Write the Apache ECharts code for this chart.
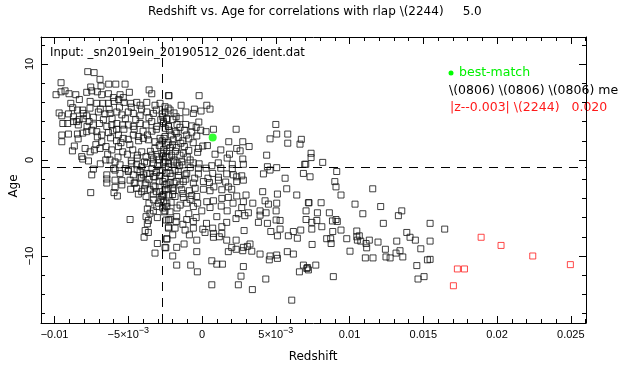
<!DOCTYPE html>
<html>
<head>
<meta charset="utf-8">
<script src="https://cdn.jsdelivr.net/npm/echarts@6/dist/echarts.min.js"></script>
<style>
html,body{margin:0;padding:0;background:#fff;}
#chart{width:620px;height:370px;}
</style>
</head>
<body>
<div id="chart"></div>
<script>
// ---------------- data ----------------
const titleText = 'Redshift vs. Age for correlations with rlap \\(2244)     5.0';
const inputText = 'Input: _sn2019ein_20190512_026_ident.dat';
const legendLines = ['best-match', '\\(0806) \\(0806) \\(0806) me', '|z--0.003| \\(2244)   0.020'];
const xAxisTitle = 'Redshift';
const yAxisTitle = 'Age';

const xRange = [-0.01092, 0.02603];
const yRange = [-16.98, 12.81];
const xMajorTicks = [-0.01, -0.005, 0, 0.005, 0.01, 0.015, 0.02, 0.025];
const xTickText = ['\u22120.01', '\u22125\u00d710', '0', '5\u00d710', '0.01', '0.015', '0.02', '0.025'];
const xTickExp = ['', '\u22123', '', '\u22123', '', '', '', ''];
const yMajorTicks = [-10, 0, 10];
const yTickText = ['\u221210', '0', '10'];

const refLineZ = -0.00273;   // vertical dashed line
const refLineAge = -0.73;    // horizontal dashed line

const bestMatch = [[0.00072, 2.35]];

const redPoints = [
  [0.01731,-11.35],[0.01779,-11.35],[0.01704,-13.1],[0.01892,-8.05],[0.02027,-8.9],[0.02242,-10.0],[0.02497,-10.9]
];

const blackPoints = [
  [-0.00775,9.2],[-0.00732,9.1],[-0.00692,8.4],[-0.00956,8.05],[-0.00685,7.7],[-0.00633,7.9],[-0.00585,7.9],[-0.00522,7.9],[-0.00755,7.6],[-0.0099,6.8],[-0.00956,7.1],[-0.00929,7.2],[-0.00902,6.9],[-0.00856,6.8],[-0.00832,6.3],[-0.00782,7.05],[-0.00748,7.2],[-0.0071,7.1],[-0.0068,6.8],[-0.00635,6.9],[-0.00601,6.5],[-0.00556,6.8],[-0.00534,6.5],[-0.00493,7.05],[-0.00359,7.3],[-0.00341,6.9],[-0.00228,6.7],
  [-0.0089,5.9],[-0.00877,5.45],[-0.00845,5.2],[-0.00809,5.2],[-0.00759,6.1],[-0.00714,5.9],[-0.00673,5.9],[-0.00635,5.9],[-0.00597,6.1],[-0.00565,6.3],[-0.00529,6.0],[-0.00484,5.9],[-0.00443,6.0],[-0.0042,5.7],[-0.00375,6.0],[-0.00319,5.7],[-0.00285,5.9],[-0.00251,5.55],
  [-0.00969,4.9],[-0.00951,4.6],[-0.00906,4.8],[-0.00872,4.5],[-0.00834,4.2],[-0.00805,4.85],[-0.00782,4.6],[-0.00737,4.45],[-0.00703,5.0],[-0.00658,4.8],[-0.00624,4.85],[-0.00578,5.0],[-0.00544,4.7],[-0.005,5.0],[-0.00466,4.85],[-0.0042,4.6],[-0.00375,5.0],[-0.0033,4.85],[-0.0028,4.2],[-0.00239,4.3],
  [-0.00944,3.8],[-0.00911,3.8],[-0.00872,4.0],[-0.00839,3.65],[-0.00805,4.3],[-0.00766,4.0],[-0.00737,3.65],[-0.00696,3.8],[-0.00669,4.2],[-0.00646,3.5],[-0.00612,3.65],[-0.00578,3.8],[-0.00538,3.65],[-0.005,3.65],[-0.00466,3.5],[-0.0042,3.8],[-0.0038,3.65],[-0.00341,4.0],[-0.00307,3.5],[-0.00262,3.8],[-0.00228,3.5],
  [-0.00951,2.6],[-0.00906,2.7],[-0.00845,2.7],[-0.00809,2.8],[-0.00782,2.95],[-0.00748,3.1],[-0.00714,2.95],[-0.0068,2.6],[-0.00635,2.85],[-0.00605,3.05],[-0.00567,2.6],[-0.00534,2.25],[-0.005,2.15],[-0.00466,2.6],[-0.00432,2.45],[-0.00398,2.25],[-0.00364,2.1],[-0.00319,1.9],[-0.00285,2.25],[-0.00251,2.45],
  [-0.00951,1.9],[-0.00866,1.45],[-0.00879,0.95],[-0.00793,1.2],[-0.00759,0.85],[-0.0073,1.05],[-0.00692,1.2],[-0.00651,1.4],[-0.00612,1.05],[-0.00567,1.4],[-0.00538,0.85],[-0.00506,0.6],[-0.0047,1.05],[-0.00439,0.5],[-0.00409,0.85],[-0.0038,0.35],[-0.00341,0.5],[-0.00307,0.35],[-0.00273,0.7],[-0.00239,0.35],
  [-0.00816,0.35],[-0.00809,0.1],[-0.00653,0.0],[-0.00624,0.0],[-0.0059,-0.2],[-0.00556,-0.5],[-0.00477,-0.35],[-0.00443,-0.5],[-0.00409,-0.7],[-0.00375,-0.35],[-0.0033,-0.35],[-0.00296,0.0],[-0.00262,-0.3],[-0.00228,-0.35],
  [-0.00737,-0.95],[-0.00748,-1.55],[-0.00646,-1.55],[-0.0059,-1.05],[-0.00556,-1.4],[-0.005,-1.05],[-0.00466,-1.55],[-0.0042,-1.2],[-0.00375,-1.4],[-0.0033,-1.75],[-0.00285,-1.05],[-0.00239,-1.4],
  [-0.00646,-1.98],[-0.00646,-2.4],[-0.0059,-2.1],[-0.00544,-2.15],[-0.00544,-2.6],[-0.0059,-2.85],[-0.00755,-3.4],[-0.00597,-3.4],[-0.00574,-3.75],[-0.00484,-3.05],[-0.00432,-3.55],[-0.00488,-2.1],[-0.00454,-2.4],[-0.0042,-1.9],[-0.00386,-2.6],[-0.00353,-3.1],[-0.00319,-2.8],[-0.00285,-3.3],[-0.00251,-2.6],[-0.0038,-3.8],[-0.0033,-4.15],[-0.00296,-4.5],[-0.00262,-4.35],[-0.00239,-4.85],[-0.00371,-5.1],[-0.00353,-5.55],[-0.00488,-6.2],[-0.0038,-5.9],[-0.00364,-6.3],[-0.00303,-6.0],[-0.00258,-5.4],[-0.00228,-6.25],[-0.00371,-6.65],[-0.00386,-7.35],[-0.00364,-7.55],[-0.00393,-8.05],[-0.00228,-7.1],[-0.00239,-8.2],[-0.00303,-8.7],[-0.00246,-9.15],[-0.00319,-9.7],[-0.005,-1.2],[-0.00398,-1.55],[-0.00353,-1.4],[-0.00319,-1.75],[-0.00285,-1.65],[-0.00251,-1.9],[-0.00443,-2.95],[-0.00409,-3.3],[-0.0033,-3.55],[-0.00273,-3.75],[-0.00307,-4.85],[-0.00266,-5.0],
  [-0.00224,6.7],[-0.0002,6.7],[-0.00142,5.7],[0.00032,5.7],[-0.00052,5.3],[-0.00007,5.1],[0.00054,5.3],[-0.00059,4.85],[-0.00217,5.2],[-0.00251,5.0],[-0.00176,4.5],[-0.00199,4.2],[-0.00239,4.25],[-0.00262,4.0],[-0.00111,3.7],[-0.0007,3.55],[-0.00022,3.95],[0.005,3.7],[-0.00222,3.1],[-0.00172,2.8],[-0.00104,2.6],[-0.00036,2.5],[-0.00009,3.1],[0.00027,2.95],[0.00077,3.2],[0.00231,3.2],[0.00506,2.7],[0.00581,2.7],[0.00461,2.2],[0.00673,2.15],[-0.00258,2.25],[-0.00195,2.1],[0.00181,1.9],[0.00276,1.9],[0.00581,1.75],[0.00664,1.65],[-0.00239,1.55],[-0.00144,1.75],[-0.00172,1.3],[0.00005,1.45],[-0.00025,1.2],[0.00036,1.5],[0.00127,1.05],[0.00235,1.2],[0.00319,1.4],[0.00258,0.95],[0.00088,0.6],[0.00186,0.6],[0.00438,0.5],[0.00276,0.1],[-0.00262,0.7],[-0.00206,0.5],[-0.00127,0.7],[-0.00251,-0.2],[-0.00195,-0.2],[-0.00138,-0.2],[-0.00081,0.0],[-0.00154,-0.6],[-0.00025,-0.85],[0.00027,-0.85],[0.00066,-0.6],[0.00127,-0.85],[0.00205,-0.45],[0.00205,-0.9],[0.0028,-0.45],[0.00443,-0.7],[0.00506,-0.8],[0.00461,-1.05],[0.00703,-0.45],[-0.00217,-1.4],[-0.00115,-1.55],[0.00072,-1.4],[0.00167,-1.45],[0.00235,-1.75],[0.00416,-1.45],[0.00563,-1.9],[0.00687,-1.4],[-0.00266,4.5],[-0.00228,3.5],[-0.00183,2.95],[-0.00161,2.35],[-0.00217,1.3],[-0.00266,0.35],[-0.0019,0.0],[-0.00228,-0.7],[-0.00183,-1.05],
  [-0.00161,-1.2],[-0.00104,-1.4],[-0.00025,-1.45],[0.00111,-1.8],[0.00212,-1.55],[0.00269,-1.65],
  [-0.00266,-2.25],[-0.00217,-2.35],[-0.00176,-2.25],[-0.00127,-2.25],[-0.00059,-2.4],[0.00009,-2.25],[0.0005,-2.35],[0.00111,-2.1],[0.00235,-2.25],[0.0028,-2.1],[0.00178,-2.8],[0.00574,-3.0],
  [-0.00251,-3.1],[-0.00195,-3.2],[-0.00138,-3.1],[-0.00086,-3.2],[-0.00047,-2.95],[0.00009,-3.05],[0.00054,-3.2],[0.00134,-3.1],[0.00201,-3.05],[0.00411,-3.3],[0.00511,-3.55],[0.00642,-3.65],
  [-0.00266,-3.8],[-0.00228,-3.65],[-0.00183,-3.8],[-0.00127,-3.9],[-0.00081,-4.1],[-0.00036,-3.8],[0.00032,-4.35],[0.00077,-4.25],[0.00134,-4.0],[0.00178,-3.9],[0.00235,-3.75],[0.00298,-3.65],[0.0028,-4.35],[0.00344,-4.5],[0.00427,-4.25],[0.0045,-4.6],[0.00506,-4.5],[0.00721,-4.45],
  [-0.00239,-4.5],[-0.00149,-4.7],[-0.00104,-4.5],[-0.00059,-4.85],[-0.00002,-5.3],[0.00054,-4.95],[0.00269,-4.95],[0.00314,-5.5],[0.00246,-5.6],[0.00393,-5.3],[0.00393,-5.75],[0.00434,-5.5],[0.00502,-5.3],[0.00705,-5.3],[0.00705,-6.2],
  [-0.00217,-6.2],[-0.00172,-5.9],[-0.00104,-6.2],[-0.00059,-6.4],[-0.00176,-6.4],[-0.00228,-7.0],[-0.00183,-7.1],[-0.00115,-7.3],[-0.00059,-7.1],[0.00005,-7.2],[0.0002,-7.55],[0.00072,-7.1],[0.00077,-7.65],[0.00134,-6.95],[0.00134,-7.65],[0.00167,-6.5],[0.00285,-7.35],[0.00382,-6.5],[0.00443,-6.6],[0.00502,-6.25],[0.00529,-6.3],[0.00466,-7.45],[0.00529,-7.2],[0.00511,-7.9],[0.00585,-7.9],[0.00619,-7.45],[0.00646,-8.15],[0.00669,-7.3],
  [-0.00239,-8.25],[-0.00199,-7.8],[-0.00086,-7.8],[-0.00036,-8.35],[0.00077,-8.05],[0.00117,-8.0],[0.00167,-8.35],[0.00231,-8.35],
  [-0.00251,-9.1],[-0.00172,-9.1],[-0.00122,-8.75],[-0.00036,-9.55],[0.00178,-9.55],[0.00201,-9.1],[0.00231,-9.3],[0.0028,-9.1],[0.00307,-9.0],[0.00337,-9.5],[0.00276,-9.45],[0.00325,-8.75],[0.00393,-9.8],[0.00461,-10.0],[0.00456,-10.4],[0.00506,-9.9],[0.00511,-10.25],[0.00578,-9.55],[0.00619,-9.8],
  [-0.00199,-10.0],[-0.00172,-10.95],[-0.00077,-10.95],[0.00066,-10.5],[0.001,-10.85],[0.00138,-10.85],[0.0028,-11.1],[0.00687,-10.95],[0.00714,-11.2],[-0.00032,-11.65],[0.0066,-11.65],[0.00264,-12.1],[0.00432,-12.4],[0.00066,-13.0],[0.00246,-13.0],[0.00341,-13.5],[0.00608,-14.6],
  [-0.00251,-5.3],[-0.00217,-5.4],[-0.00244,-6.25],
  [0.00739,0.7],[0.00739,0.25],[0.00696,-0.45],[0.00818,-0.25],[0.00732,-1.75],[0.00913,-1.2],[0.009,-2.25],[0.00908,-2.8],[0.00942,-3.65],[0.01157,-3.0],[0.00725,-4.45],[0.00807,-4.45],[0.00782,-5.5],[0.00863,-5.5],[0.01037,-4.6],[0.01211,-4.85],[0.01354,-5.3],[0.01331,-5.8],[0.0109,-5.6],[0.00778,-6.3],[0.00744,-6.5],[0.00884,-6.35],[0.00908,-6.2],[0.00917,-6.4],[0.00812,-6.95],[0.00744,-7.2],[0.00886,-7.45],[0.00942,-7.3],[0.01229,-6.6],[0.01546,-6.6],[0.01645,-7.2],[0.00746,-8.8],[0.00845,-8.2],[0.00875,-8.7],[0.00872,-8.2],
  [0.00981,-8.2],[0.01003,-9.5],[0.01049,-7.4],[0.01049,-8.0],[0.01066,-7.9],[0.01053,-8.35],[0.01076,-8.45],[0.01112,-8.7],[0.01116,-9.15],[0.01134,-8.35],[0.01193,-8.55],[0.01243,-9.3],[0.01247,-10.1],[0.01275,-10.2],[0.01159,-10.2],[0.01107,-10.2],[0.01315,-9.7],[0.01342,-9.45],[0.01361,-10.1],[0.0132,-8.45],[0.01388,-7.55],[0.0141,-8.05],[0.01446,-8.35],[0.01483,-9.25],[0.01546,-8.45],[0.01528,-10.4],[0.01456,-11.0],[0.01505,-12.15],[0.01464,-12.4],[0.0071,-11.3],[0.00721,-11.45],[0.00771,-10.95],[0.0089,-12.15],[0.01546,-10.35],
  [-0.0029,1.5],[-0.0026,1.1],[-0.0023,1.8],[-0.0032,1.2],[-0.0035,0.9],[-0.002,1.6],[-0.0018,0.9],[-0.0022,0.3],[-0.003,-0.6],[-0.0027,-1.1],[-0.0034,-0.9],[-0.0021,-1.7],[-0.0016,-1.6],[-0.0024,-2.5],[-0.0029,-2.2],[-0.0036,-2.0],[-0.002,-2.9],[-0.0026,-3.6],[-0.0015,-2.6],[-0.0033,-2.7],[-0.0041,-1.8],[-0.0046,-2.4],[-0.0039,-3.0],[-0.0013,-0.5],[-0.001,0.3],[-0.0006,-0.3],[-0.0012,1.4],[-0.0009,2.2],[-0.0015,3.4],[-0.0031,3.2],[-0.004,3.0],[-0.0045,4.2],[-0.0052,4.3],[-0.0058,3.2],[-0.0062,2.3],[-0.0049,1.6],[-0.0055,1.8],[-0.0068,1.9],[-0.0071,2.4],[-0.0044,0.2],[-0.0052,-0.9],[-0.006,-0.9],[-0.0038,-2.4],
  [-0.0041,5.3],[-0.0036,4.4],[-0.0031,5.2],[-0.0027,4.8],[-0.0023,5.4],[-0.0019,4.9],[-0.0015,4.3],[-0.0011,5.0],[-0.0034,3.0],[-0.0025,3.3],[-0.0017,3.7],[-0.0012,3.1],[-0.0007,2.9],[-0.0004,3.4],[-0.0037,2.6],[-0.0027,2.0],[-0.0021,2.6],[-0.0013,2.0],[-0.0006,1.8],[-0.0003,0.8],[-0.0009,1.0],[-0.0015,0.5],[-0.0024,0.9],[-0.0033,0.1],[-0.0039,-0.2],[-0.0044,-1.0],[-0.0031,-1.3],[-0.0025,-0.7],[-0.0017,-0.3],[-0.0008,-0.8],[-0.0002,-0.4],[-0.0005,-1.9],[-0.0011,-2.0],[-0.0019,-2.4],[-0.0023,-3.0],[-0.0031,-3.3],[-0.0036,-4.5],[-0.0028,-4.1],[-0.002,-3.6],[-0.0013,-3.5],[-0.0007,-3.7],[-0.0003,-4.5],[-0.0017,-5.0],[-0.0021,-4.4],[-0.0033,-5.3],[-0.0009,-5.6],[-0.0013,-6.7],[-0.0004,-6.0],[0.0003,-6.6],[0.001,-5.9],[0.0017,-5.3],[0.0021,-4.5],[0.0013,-4.8],[0.0023,-6.1],[0.0029,-5.8],[0.0008,-2.8],[0.0016,-2.3],[0.0004,-1.9],[0.0011,-0.3],[0.0017,0.2],[-0.0048,5.5],[-0.0056,5.5],[-0.0063,5.3],[-0.0069,5.3],[-0.0076,5.4],[-0.0085,4.0],[-0.0078,3.5],[-0.0061,4.3],[-0.0053,3.2],[-0.0046,3.2],[-0.0043,2.0],[-0.0058,2.0],[-0.0072,1.6],[-0.0084,2.2],[-0.0064,0.6],[-0.0057,0.3],[-0.0048,-0.1],[-0.0069,-0.4],[-0.0077,-0.1]
];

// minor tick positions (axis decoration)
const xMinorTicks = [];
for (let i = -10; i <= 26; i++) xMinorTicks.push(i / 1000);
const yMinorTicks = [];
for (let v = -16; v <= 12; v += 2) yMinorTicks.push(v);

// ---------------- chart ----------------
const TICKFONT = 'Liberation Sans, Arial, sans-serif';
const TEXTFONT = 'DejaVu Sans, Verdana, sans-serif';
const chart = echarts.init(document.getElementById('chart'), null, {renderer: 'canvas'});

function findIdx(arr, v) {
  for (let i = 0; i < arr.length; i++) if (Math.abs(arr[i] - v) < 1e-9) return i;
  return -1;
}

function xAxisDef(pos, major, showLabel) {
  return {
    type: 'value', position: pos, min: xRange[0], max: xRange[1],
    axisLine: {show: major, onZero: false, lineStyle: {color: '#000', width: 1}},
    axisTick: {show: true, inside: true, length: major ? 7 : 4,
      customValues: major ? xMajorTicks : xMinorTicks, lineStyle: {color: '#000', width: 1}},
    axisLabel: showLabel ? {
      show: true, customValues: xMajorTicks, margin: 2, color: '#000',
      fontFamily: TICKFONT, fontSize: 11,
      formatter: function (v) {
        const i = findIdx(xMajorTicks, v);
        if (i < 0) return '';
        return '{b|' + xTickText[i] + '}' + (xTickExp[i] ? '{s|' + xTickExp[i] + '}' : '');
      },
      rich: {
        b: {fontFamily: TICKFONT, fontSize: 11, color: '#000', lineHeight: 20},
        s: {fontFamily: TICKFONT, fontSize: 9, color: '#000', padding: [0, 0, 9, 0]}
      }
    } : {show: false},
    splitLine: {show: false}, minorTick: {show: false}
  };
}

function yAxisDef(pos, major, showLabel) {
  return {
    type: 'value', position: pos, min: yRange[0], max: yRange[1],
    axisLine: {show: major, onZero: false, lineStyle: {color: '#000', width: 1}},
    axisTick: {show: true, inside: true, length: major ? 7 : 4,
      customValues: major ? yMajorTicks : yMinorTicks, lineStyle: {color: '#000', width: 1}},
    axisLabel: showLabel ? {
      show: true, customValues: yMajorTicks, rotate: 90, margin: 6, color: '#000',
      fontFamily: TICKFONT, fontSize: 11,
      formatter: function (v) {
        const i = findIdx(yMajorTicks, v);
        return i < 0 ? '' : yTickText[i];
      }
    } : {show: false},
    splitLine: {show: false}, minorTick: {show: false}
  };
}

const option = {
  animation: false,
  backgroundColor: '#fff',
  grid: {left: 41, right: 34, top: 37, bottom: 47, outerBoundsMode: 'none', containLabel: false},
  xAxis: [xAxisDef('bottom', true, true), xAxisDef('bottom', false, false), xAxisDef('top', true, false), xAxisDef('top', false, false)],
  yAxis: [yAxisDef('left', true, true), yAxisDef('left', false, false), yAxisDef('right', true, false), yAxisDef('right', false, false)],
  series: [
    {
      type: 'scatter', xAxisIndex: 0, yAxisIndex: 0, data: blackPoints,
      symbol: 'rect', symbolSize: 6, silent: true,
      itemStyle: {color: 'rgba(0,0,0,0)', borderColor: '#111', borderWidth: 1},
      emphasis: {disabled: true},
      markLine: {
        silent: true, symbol: ['none', 'none'], label: {show: false}, precision: 8,
        lineStyle: {color: '#000', width: 1, type: [9, 7]},
        emphasis: {disabled: true},
        data: [{xAxis: refLineZ}, {yAxis: refLineAge}]
      }
    },
    {
      type: 'scatter', xAxisIndex: 0, yAxisIndex: 0, data: redPoints,
      symbol: 'rect', symbolSize: 6, silent: true,
      itemStyle: {color: 'rgba(0,0,0,0)', borderColor: '#ff1a1a', borderWidth: 1},
      emphasis: {disabled: true}
    },
    {
      type: 'scatter', xAxisIndex: 0, yAxisIndex: 0, data: bestMatch,
      symbol: 'circle', symbolSize: 8, silent: true, z: 5,
      itemStyle: {color: '#00ff00'},
      emphasis: {disabled: true}
    }
  ],
  graphic: [
    {type: 'text', x: 148, y: 12, silent: true,
      style: {text: titleText, font: '12px ' + TEXTFONT, fill: '#000', textAlign: 'left', textVerticalAlign: 'middle'}},
    {type: 'text', x: 50, y: 53, silent: true,
      style: {text: inputText, font: '11.6px ' + TEXTFONT, fill: '#000', textAlign: 'left', textVerticalAlign: 'middle'}},
    {type: 'circle', shape: {cx: 451, cy: 73, r: 2.5}, silent: true, style: {fill: '#00ff00'}},
    {type: 'text', x: 459, y: 73, silent: true,
      style: {text: legendLines[0], font: '12.5px ' + TEXTFONT, fill: '#00f000', textAlign: 'left', textVerticalAlign: 'middle'}},
    {type: 'text', x: 449, y: 91, silent: true,
      style: {text: legendLines[1], font: '12.5px ' + TEXTFONT, fill: '#000', textAlign: 'left', textVerticalAlign: 'middle'}},
    {type: 'text', x: 450, y: 108, silent: true,
      style: {text: legendLines[2], font: '12.5px ' + TEXTFONT, fill: '#ff1a1a', textAlign: 'left', textVerticalAlign: 'middle'}},
    {type: 'text', x: 313, y: 357, silent: true,
      style: {text: xAxisTitle, font: '12px ' + TEXTFONT, fill: '#000', textAlign: 'center', textVerticalAlign: 'middle'}},
    {type: 'text', x: 14, y: 186, rotation: Math.PI / 2, silent: true,
      style: {text: yAxisTitle, font: '12px ' + TEXTFONT, fill: '#000', textAlign: 'center', textVerticalAlign: 'middle'}}
  ]
};
chart.setOption(option);
</script>
</body>
</html>
